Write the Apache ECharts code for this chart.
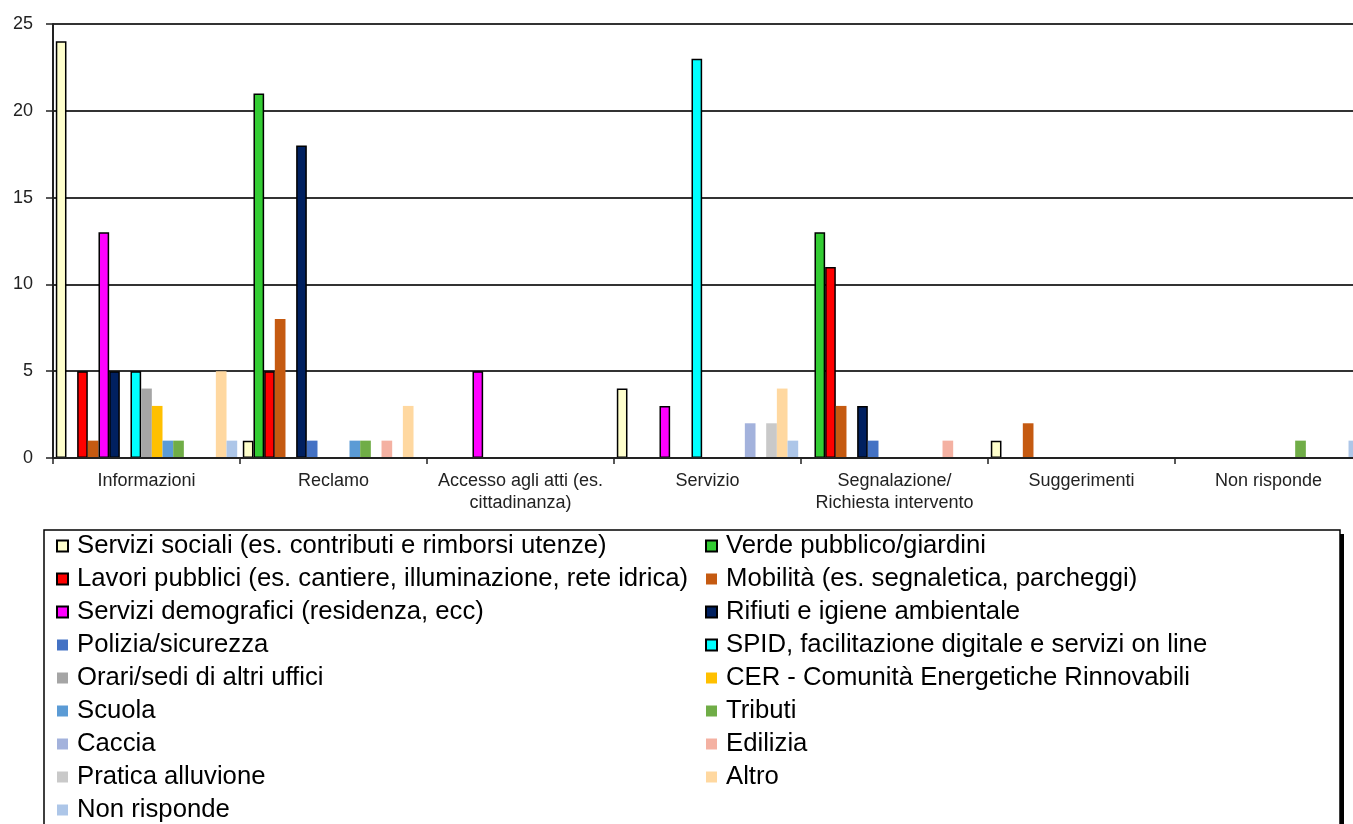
<!DOCTYPE html>
<html>
<head>
<meta charset="utf-8">
<script src="https://cdn.jsdelivr.net/npm/echarts@6/dist/echarts.min.js"></script>
<style>
html,body{margin:0;padding:0;background:#fff;overflow:hidden;width:1353px;height:824px;}
#chart{width:1362px;height:824px;}
</style>
</head>
<body>
<div id="chart"></div>
<script>
// ---- DATA ----
const categories = ['Informazioni', 'Reclamo', 'Accesso agli atti (es.\ncittadinanza)', 'Servizio', 'Segnalazione/\nRichiesta intervento', 'Suggerimenti', 'Non risponde'];
const yTicks = [0, 5, 10, 15, 20, 25];

const seriesNames = [
  'Servizi sociali (es. contributi e rimborsi utenze)',
  'Verde pubblico/giardini',
  'Lavori pubblici (es. cantiere, illuminazione, rete idrica)',
  'Mobilità (es. segnaletica, parcheggi)',
  'Servizi demografici (residenza, ecc)',
  'Rifiuti e igiene ambientale',
  'Polizia/sicurezza',
  'SPID, facilitazione digitale e servizi on line',
  'Orari/sedi di altri uffici',
  'CER - Comunità Energetiche Rinnovabili',
  'Scuola',
  'Tributi',
  'Caccia',
  'Edilizia',
  'Pratica alluvione',
  'Altro',
  'Non risponde'
];

const serviziSociali     = [24, 1, 0, 4, 0, 1, 0];
const verdePubblico      = [0, 21, 0, 0, 13, 0, 0];
const lavoriPubblici     = [5, 5, 0, 0, 11, 0, 0];
const mobilita           = [1, 8, 0, 0, 3, 2, 0];
const serviziDemografici = [13, 0, 5, 3, 0, 0, 0];
const rifiuti            = [5, 18, 0, 0, 3, 0, 0];
const polizia            = [0, 1, 0, 0, 1, 0, 0];
const spid               = [5, 0, 0, 23, 0, 0, 0];
const orari              = [4, 0, 0, 0, 0, 0, 0];
const cer                = [3, 0, 0, 0, 0, 0, 0];
const scuola             = [1, 1, 0, 0, 0, 0, 0];
const tributi            = [1, 1, 0, 0, 0, 0, 1];
const caccia             = [0, 0, 0, 2, 0, 0, 0];
const edilizia           = [0, 1, 0, 0, 1, 0, 0];
const praticaAlluvione   = [0, 0, 0, 2, 0, 0, 0];
const altro              = [5, 3, 0, 4, 0, 0, 0];
const nonRisponde        = [1, 0, 0, 1, 0, 0, 1];

const seriesValues = [serviziSociali, verdePubblico, lavoriPubblici, mobilita, serviziDemografici,
  rifiuti, polizia, spid, orari, cer, scuola, tributi, caccia, edilizia, praticaAlluvione, altro, nonRisponde];

// ---- STYLES ----
const seriesColors = ['#FFFFCC', '#33CC33', '#FF0000', '#C55A11', '#FF00FF', '#002060', '#4472C4', '#00FFFF',
  '#A5A5A5', '#FFC000', '#5B9BD5', '#70AD47', '#A3B2DC', '#F4B1A2', '#C9C9C9', '#FFD8A0', '#ADC6E8'];
const bordered = [true, true, true, false, true, true, false, true, false, false, false, false, false, false, false, false, false];

const FONT = '"Liberation Sans", Arial, sans-serif';

const series = seriesNames.map((name, i) => ({
  name: name,
  type: 'bar',
  data: seriesValues[i],
  barGap: '0%',
  barCategoryGap: '3%',
  itemStyle: {
    color: seriesColors[i],
    borderColor: bordered[i] ? '#000' : seriesColors[i],
    borderWidth: bordered[i] ? 1.5 : 0
  },
  emphasis: { disabled: true },
  animation: false
}));

const legendCommon = {
  orient: 'vertical',
  icon: 'rect',
  itemWidth: 11,
  itemHeight: 11,
  itemGap: 7,
  padding: 0,
  selectedMode: false,
  textStyle: { fontFamily: FONT, fontSize: 25.7, lineHeight: 26, color: '#000', padding: [0, 0, 0, 4] }
};

const chart = echarts.init(document.getElementById('chart'), null, { renderer: 'canvas' });
chart.setOption({
  backgroundColor: '#fff',
  animation: false,
  graphic: [
    {
      type: 'rect',
      z: -2,
      shape: { x: 48, y: 534, width: 1296, height: 400 },
      style: { fill: '#000' }
    },
    {
      type: 'rect',
      z: -1,
      shape: { x: 44, y: 530, width: 1296, height: 400 },
      style: { fill: '#fff', stroke: '#000', lineWidth: 1.5 }
    }
  ],
  legend: [
    Object.assign({}, legendCommon, { left: 56, top: 533, data: seriesNames.filter((_, i) => i % 2 === 0) }),
    Object.assign({}, legendCommon, { left: 705, top: 533, data: seriesNames.filter((_, i) => i % 2 === 1) })
  ],
  grid: { left: 53, right: 0, top: 24, bottom: 366, containLabel: false },
  xAxis: {
    type: 'category',
    data: categories,
    z: 10,
    axisLine: { lineStyle: { color: '#222', width: 2 } },
    axisTick: { show: true, length: 6, lineStyle: { color: '#222', width: 1.5 } },
    axisLabel: { interval: 0, fontFamily: FONT, fontSize: 18, lineHeight: 22, margin: 12, color: '#222' },
    splitLine: { show: false }
  },
  yAxis: {
    type: 'value',
    min: yTicks[0],
    max: yTicks[yTicks.length - 1],
    interval: yTicks[1] - yTicks[0],
    axisLine: { show: true, lineStyle: { color: '#222', width: 2 } },
    axisTick: { show: true, length: 7, lineStyle: { color: '#222', width: 1.5 } },
    axisLabel: { fontFamily: FONT, fontSize: 18, margin: 20, color: '#222' },
    splitLine: { show: true, lineStyle: { color: '#333', width: 2 } }
  },
  series: series
});
</script>
</body>
</html>
